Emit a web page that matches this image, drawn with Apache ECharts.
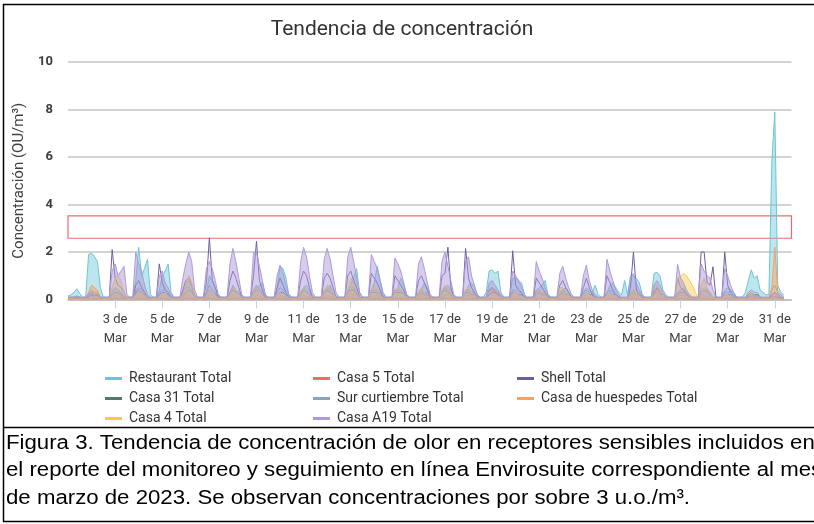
<!DOCTYPE html>
<html><head><meta charset="utf-8">
<script src="https://cdn.jsdelivr.net/npm/echarts/dist/echarts.min.js"></script>
<style>html,body{margin:0;padding:0;background:#fff}#c{width:814px;height:524px}</style>
</head><body><div id="c"></div>
<script>
// ---- data (3-hourly samples from 1 Mar 00:00; each row = one day: 0,3,6,9,12,15,18,21 h) ----
const STEP_H = 3;
const AXIS_MAX_H = 737;
const TICK_LABELS = ['3 de\nMar','5 de\nMar','7 de\nMar','9 de\nMar','11 de\nMar','13 de\nMar','15 de\nMar','17 de\nMar','19 de\nMar','21 de\nMar','23 de\nMar','25 de\nMar','27 de\nMar','29 de\nMar','31 de\nMar'];
const SERIES_NAMES = ['Restaurant Total','Casa 5 Total','Shell Total','Casa 31 Total','Sur curtiembre Total','Casa de huespedes Total','Casa 4 Total','Casa A19 Total'];
const BOX_LOW = 2.58, BOX_HIGH = 3.52;

const restaurant = [
0.15,0.2,0.3,0.45,0.25,0.1,0.1,1.9,
1.95,1.8,1.6,0.5,0.1,0.1,0.1,0.3,
0.5,0.4,0.3,0.15,0.1,0.1,0.1,0.8,
2.2,1.0,1.3,1.7,0.2,0.1,0.1,0.4,
1.0,1.2,1.5,0.3,0.1,0.1,0.1,0.3,
0.6,0.8,0.5,0.1,0.1,0.1,0.1,0.3,
1.0,0.8,0.5,0.2,0.1,0.1,0.1,0.3,
0.6,0.4,0.3,0.1,0.1,0.1,0.1,0.2,
0.5,0.6,0.7,0.2,0.1,0.1,0.1,0.5,
1.4,1.3,0.9,0.2,0.1,0.1,0.1,0.3,
0.5,0.6,0.4,0.1,0.1,0.1,0.1,0.2,
0.4,0.6,0.3,0.1,0.1,0.1,0.1,0.3,
0.6,0.9,1.3,0.3,0.1,0.1,0.1,0.4,
0.7,1.4,0.8,0.3,0.1,0.1,0.1,0.3,
0.5,0.9,0.6,0.2,0.1,0.1,0.1,0.3,
0.4,0.7,0.5,0.1,0.1,0.1,0.1,0.2,
0.5,0.6,0.4,0.1,0.1,0.1,0.1,0.2,
0.6,0.7,0.5,0.2,0.1,0.1,0.3,1.2,
1.25,1.1,1.2,0.3,0.1,0.1,0.1,0.9,
0.9,0.8,0.7,0.2,0.1,0.1,0.1,0.4,
0.5,0.6,0.8,0.2,0.1,0.1,0.1,0.3,
0.4,0.5,0.3,0.1,0.1,0.1,0.1,0.3,
0.5,0.4,0.3,0.6,0.2,0.1,0.1,0.3,
0.6,0.7,0.5,0.3,0.2,0.8,0.2,1.0,
1.0,0.9,0.7,0.2,0.1,0.1,0.1,1.1,
1.15,1.0,0.4,0.2,0.1,0.1,0.1,0.3,
0.4,0.5,0.3,0.1,0.1,0.1,0.1,0.2,
0.3,0.4,0.3,0.1,0.1,0.1,0.1,0.4,
0.5,0.4,0.3,0.1,0.1,0.1,0.3,0.8,
1.25,0.9,1.0,0.4,0.3,0.2,0.2,5.8,
7.9,0.6,0.3,0.2];

const casa5 = [
0.02,0.02,0.02,0.02,0.02,0.02,0.02,0.03,
0.04,0.03,0.03,0.02,0.02,0.02,0.02,0.03,
0.05,0.04,0.03,0.02,0.02,0.02,0.02,0.03,
0.05,0.04,0.03,0.02,0.02,0.02,0.02,0.03,
0.04,0.04,0.03,0.02,0.02,0.02,0.02,0.03,
0.05,0.05,0.03,0.02,0.02,0.02,0.02,0.03,
0.05,0.04,0.03,0.02,0.02,0.02,0.02,0.03,
0.05,0.04,0.03,0.02,0.02,0.02,0.02,0.04,
0.05,0.04,0.03,0.02,0.02,0.02,0.02,0.03,
0.04,0.04,0.03,0.02,0.02,0.02,0.02,0.03,
0.05,0.04,0.03,0.02,0.02,0.02,0.02,0.04,
0.05,0.04,0.03,0.02,0.02,0.02,0.02,0.04,
0.05,0.04,0.03,0.02,0.02,0.02,0.02,0.04,
0.04,0.04,0.03,0.02,0.02,0.02,0.02,0.03,
0.04,0.03,0.03,0.02,0.02,0.02,0.02,0.03,
0.04,0.04,0.03,0.02,0.02,0.02,0.02,0.04,
0.05,0.04,0.03,0.02,0.02,0.02,0.02,0.04,
0.04,0.03,0.03,0.02,0.02,0.02,0.02,0.03,
0.04,0.04,0.03,0.02,0.02,0.02,0.02,0.03,
0.04,0.03,0.03,0.02,0.02,0.02,0.02,0.03,
0.04,0.03,0.03,0.02,0.02,0.02,0.02,0.03,
0.04,0.03,0.03,0.02,0.02,0.02,0.02,0.03,
0.04,0.03,0.03,0.02,0.02,0.02,0.02,0.03,
0.04,0.03,0.03,0.02,0.02,0.02,0.02,0.03,
0.04,0.03,0.03,0.02,0.02,0.02,0.02,0.03,
0.04,0.03,0.03,0.02,0.02,0.02,0.02,0.03,
0.04,0.04,0.03,0.02,0.02,0.02,0.02,0.03,
0.04,0.03,0.03,0.02,0.02,0.02,0.02,0.03,
0.03,0.03,0.02,0.02,0.02,0.02,0.02,0.03,
0.04,0.03,0.03,0.02,0.02,0.02,0.02,0.06,
0.1,0.04,0.03,0.02];

const shell = [
0.05,0.05,0.05,0.05,0.05,0.05,0.05,0.1,
0.2,0.1,0.05,0.05,0.05,0.05,0.05,2.1,
0.9,0.6,0.5,0.3,0.05,0.05,0.05,0.6,
0.8,0.5,0.3,0.1,0.05,0.05,0.05,1.5,
0.7,0.4,0.3,0.1,0.05,0.05,0.05,0.4,
0.8,0.9,0.6,0.2,0.05,0.05,0.05,0.7,
2.6,0.8,0.5,0.1,0.05,0.05,0.05,0.8,
1.2,0.9,0.5,0.1,0.05,0.05,0.05,1.0,
2.45,0.8,0.4,0.1,0.05,0.05,0.05,0.5,
0.9,0.6,0.3,0.1,0.05,0.05,0.05,0.8,
1.2,1.0,0.5,0.1,0.05,0.05,0.05,0.9,
1.1,0.9,0.5,0.1,0.05,0.05,0.05,1.0,
1.2,0.8,0.5,0.1,0.05,0.05,0.05,1.1,
0.9,0.7,0.4,0.1,0.05,0.05,0.05,1.0,
0.8,0.6,0.4,0.1,0.05,0.05,0.05,0.8,
1.0,0.7,0.4,0.1,0.05,0.05,0.05,1.0,
1.1,2.2,0.5,0.1,0.05,0.05,0.05,2.15,
0.9,0.5,0.3,0.1,0.05,0.05,0.05,0.4,
0.5,0.3,0.2,0.1,0.05,0.05,0.05,2.05,
0.6,0.4,0.3,0.1,0.05,0.05,0.05,0.9,
0.7,0.5,0.3,0.1,0.05,0.05,0.05,0.6,
0.8,0.5,0.3,0.1,0.05,0.05,0.05,0.5,
0.9,0.5,0.2,0.1,0.05,0.05,0.05,1.0,
0.7,0.4,0.2,0.1,0.05,0.05,0.05,0.5,
2.0,0.4,0.2,0.1,0.05,0.05,0.05,0.3,
0.5,0.3,0.2,0.1,0.05,0.05,0.05,0.9,
0.5,0.4,0.2,0.1,0.05,0.05,0.05,2.0,
2.0,0.7,0.6,1.38,0.1,0.05,0.05,2.0,
0.6,0.3,0.2,0.1,0.05,0.05,0.05,0.1,
0.1,0.1,0.05,0.05,0.05,0.05,0.05,0.1,
0.1,0.1,0.05,0.05];

const casa31 = [
0.05,0.05,0.05,0.1,0.05,0.05,0.05,0.2,
0.3,0.2,0.2,0.1,0.05,0.05,0.05,0.2,
0.3,0.3,0.2,0.1,0.05,0.05,0.05,0.3,
0.4,0.3,0.2,0.1,0.05,0.05,0.05,0.2,
0.3,0.3,0.2,0.1,0.05,0.05,0.05,0.2,
0.3,0.4,0.3,0.1,0.05,0.05,0.05,0.2,
0.4,0.3,0.2,0.1,0.05,0.05,0.05,0.2,
0.4,0.3,0.2,0.1,0.05,0.05,0.05,0.3,
0.4,0.3,0.2,0.1,0.05,0.05,0.05,0.2,
0.3,0.3,0.2,0.1,0.05,0.05,0.05,0.2,
0.4,0.3,0.2,0.1,0.05,0.05,0.05,0.3,
0.4,0.3,0.2,0.1,0.05,0.05,0.05,0.3,
0.4,0.4,0.2,0.1,0.05,0.05,0.05,0.3,
0.3,0.3,0.2,0.1,0.05,0.05,0.05,0.3,
0.3,0.3,0.2,0.1,0.05,0.05,0.05,0.2,
0.3,0.2,0.2,0.1,0.05,0.05,0.05,0.3,
0.4,0.3,0.2,0.1,0.05,0.05,0.05,0.3,
0.3,0.2,0.2,0.1,0.05,0.05,0.05,0.2,
0.3,0.3,0.2,0.1,0.05,0.05,0.05,0.3,
0.3,0.2,0.2,0.1,0.05,0.05,0.05,0.2,
0.3,0.2,0.2,0.1,0.05,0.05,0.05,0.2,
0.3,0.2,0.2,0.1,0.05,0.05,0.05,0.2,
0.3,0.2,0.2,0.1,0.05,0.05,0.05,0.2,
0.3,0.2,0.2,0.1,0.05,0.05,0.05,0.2,
0.3,0.2,0.2,0.1,0.05,0.05,0.05,0.3,
0.3,0.2,0.2,0.1,0.05,0.05,0.05,0.2,
0.3,0.3,0.2,0.1,0.05,0.05,0.05,0.3,
0.4,0.3,0.2,0.1,0.05,0.05,0.05,0.2,
0.2,0.2,0.1,0.05,0.05,0.05,0.05,0.2,
0.3,0.2,0.2,0.1,0.05,0.05,0.05,0.2,
0.3,0.2,0.1,0.05];

const surCurtiembre = [
0.1,0.1,0.1,0.15,0.1,0.05,0.05,0.3,
0.4,0.3,0.3,0.1,0.05,0.05,0.05,0.3,
0.5,0.4,0.3,0.1,0.05,0.05,0.05,0.4,
0.5,0.4,0.3,0.1,0.05,0.05,0.05,0.3,
0.4,0.4,0.3,0.1,0.05,0.05,0.05,0.3,
0.5,0.5,0.4,0.1,0.05,0.05,0.05,0.3,
0.6,0.4,0.3,0.1,0.05,0.05,0.05,0.3,
0.5,0.4,0.3,0.1,0.05,0.05,0.05,0.4,
0.6,0.4,0.3,0.1,0.05,0.05,0.05,0.3,
0.5,0.4,0.3,0.1,0.05,0.05,0.05,0.3,
0.5,0.4,0.3,0.1,0.05,0.05,0.05,0.4,
0.5,0.4,0.3,0.1,0.05,0.05,0.05,0.4,
0.5,0.5,0.3,0.1,0.05,0.05,0.05,0.4,
0.4,0.4,0.3,0.1,0.05,0.05,0.05,0.4,
0.4,0.4,0.3,0.1,0.05,0.05,0.05,0.3,
0.4,0.3,0.3,0.1,0.05,0.05,0.05,0.4,
0.5,0.4,0.3,0.1,0.05,0.05,0.05,0.4,
0.4,0.3,0.3,0.1,0.05,0.05,0.05,0.4,
0.5,0.4,0.3,0.1,0.05,0.05,0.05,0.4,
0.4,0.3,0.3,0.1,0.05,0.05,0.05,0.3,
0.4,0.3,0.3,0.1,0.05,0.05,0.05,0.3,
0.4,0.3,0.2,0.1,0.05,0.05,0.05,0.3,
0.4,0.3,0.3,0.1,0.05,0.05,0.05,0.3,
0.4,0.3,0.2,0.1,0.05,0.05,0.05,0.3,
0.4,0.3,0.3,0.1,0.05,0.05,0.05,0.4,
0.4,0.3,0.2,0.1,0.05,0.05,0.05,0.3,
0.4,0.4,0.3,0.1,0.05,0.05,0.05,0.4,
0.5,0.4,0.3,0.1,0.05,0.05,0.05,0.3,
0.3,0.3,0.2,0.1,0.05,0.05,0.05,0.3,
0.4,0.3,0.3,0.1,0.05,0.05,0.05,0.4,
0.6,0.3,0.2,0.1];

const huespedes = [
0.05,0.05,0.05,0.1,0.05,0.05,0.05,0.3,
0.6,0.5,0.4,0.1,0.05,0.05,0.05,0.1,
0.2,0.2,0.1,0.05,0.05,0.05,0.05,0.2,
0.4,0.3,0.2,0.05,0.05,0.05,0.05,0.1,
0.2,0.2,0.1,0.05,0.05,0.05,0.05,0.1,
0.3,0.2,0.1,0.05,0.05,0.05,0.05,0.1,
0.2,0.2,0.1,0.05,0.05,0.05,0.05,0.1,
0.2,0.1,0.1,0.05,0.05,0.05,0.05,0.1,
0.2,0.15,0.1,0.05,0.05,0.05,0.05,0.1,
0.2,0.1,0.1,0.05,0.05,0.05,0.05,0.1,
0.2,0.1,0.1,0.05,0.05,0.05,0.05,0.1,
0.2,0.1,0.1,0.05,0.05,0.05,0.05,0.1,
0.3,0.2,0.1,0.05,0.05,0.05,0.05,0.1,
0.2,0.2,0.1,0.05,0.05,0.05,0.05,0.1,
0.2,0.1,0.1,0.05,0.05,0.05,0.05,0.1,
0.2,0.1,0.1,0.05,0.05,0.05,0.05,0.1,
0.2,0.2,0.1,0.05,0.05,0.05,0.05,0.1,
0.2,0.1,0.1,0.05,0.05,0.05,0.1,0.3,
0.45,0.4,0.3,0.1,0.05,0.05,0.05,0.3,
0.3,0.2,0.1,0.05,0.05,0.05,0.05,0.1,
0.2,0.1,0.1,0.05,0.05,0.05,0.05,0.1,
0.2,0.1,0.1,0.05,0.05,0.05,0.05,0.1,
0.2,0.1,0.1,0.05,0.05,0.05,0.05,0.1,
0.2,0.1,0.1,0.05,0.05,0.05,0.05,0.1,
0.2,0.2,0.1,0.05,0.05,0.05,0.05,0.2,
0.3,0.2,0.1,0.05,0.05,0.05,0.05,0.1,
0.2,0.2,0.1,0.05,0.05,0.05,0.05,0.1,
0.2,0.1,0.1,0.05,0.05,0.05,0.05,0.1,
0.1,0.1,0.05,0.05,0.05,0.05,0.05,0.2,
0.3,0.2,0.1,0.05,0.05,0.05,0.05,0.5,
2.2,0.3,0.1,0.05];

const casa4 = [
0.02,0.02,0.02,0.02,0.02,0.02,0.02,0.05,
0.1,0.1,0.05,0.02,0.02,0.02,0.02,0.5,
0.9,1.0,0.8,0.3,0.02,0.02,0.02,0.2,
0.3,0.2,0.1,0.05,0.02,0.02,0.02,0.1,
0.2,0.3,0.1,0.05,0.02,0.02,0.02,0.2,
0.6,1.0,0.7,0.2,0.02,0.02,0.02,0.2,
0.4,0.3,0.2,0.05,0.02,0.02,0.02,0.2,
0.5,0.4,0.2,0.05,0.02,0.02,0.02,0.3,
0.5,0.3,0.2,0.05,0.02,0.02,0.02,0.2,
0.3,0.2,0.1,0.05,0.02,0.02,0.02,0.3,
0.5,0.4,0.2,0.05,0.02,0.02,0.02,0.3,
0.6,0.5,0.3,0.05,0.02,0.02,0.02,0.4,
0.9,0.7,0.3,0.05,0.02,0.02,0.02,0.4,
0.6,0.4,0.2,0.05,0.02,0.02,0.02,0.3,
0.5,0.4,0.2,0.05,0.02,0.02,0.02,0.3,
0.5,0.3,0.2,0.05,0.02,0.02,0.02,0.4,
0.6,0.5,0.3,0.05,0.02,0.02,0.02,0.4,
0.5,0.3,0.2,0.05,0.02,0.02,0.02,0.1,
0.2,0.1,0.1,0.05,0.02,0.02,0.02,0.2,
0.3,0.2,0.1,0.05,0.02,0.02,0.02,0.2,
0.4,0.3,0.2,0.05,0.02,0.02,0.02,0.5,
0.5,0.3,0.2,0.05,0.02,0.02,0.02,0.2,
0.3,0.2,0.1,0.05,0.02,0.02,0.02,0.2,
0.3,0.2,0.1,0.05,0.02,0.02,0.02,0.2,
0.4,0.3,0.2,0.05,0.02,0.02,0.02,0.5,
0.6,0.4,0.2,0.05,0.02,0.02,0.02,0.9,
1.0,1.1,1.0,0.8,0.6,0.3,0.1,0.6,
0.9,0.5,0.3,0.1,0.02,0.02,0.02,0.2,
0.2,0.1,0.05,0.02,0.02,0.02,0.02,0.05,
0.1,0.05,0.05,0.02,0.02,0.02,0.02,0.1,
0.1,0.05,0.02,0.02];

const casaA19 = [
0.1,0.1,0.1,0.1,0.1,0.1,0.1,0.2,
0.3,0.2,0.15,0.1,0.1,0.1,0.1,1.2,
1.5,1.0,1.2,1.4,0.2,0.1,0.1,2.0,
1.5,1.2,0.6,0.2,0.1,0.1,0.1,1.0,
1.2,0.7,0.5,0.2,0.1,0.1,0.1,0.9,
1.5,2.0,1.6,0.4,0.1,0.1,0.1,1.3,
1.6,1.3,0.8,0.2,0.1,0.1,0.1,1.5,
2.15,1.6,0.9,0.2,0.1,0.1,0.1,2.0,
2.0,1.4,0.8,0.2,0.1,0.1,0.1,1.0,
1.45,1.1,0.6,0.2,0.1,0.1,0.1,1.6,
2.2,1.8,1.0,0.3,0.1,0.1,0.1,1.7,
2.15,1.7,1.0,0.3,0.1,0.1,0.1,1.8,
2.2,1.6,0.9,0.3,0.1,0.1,0.1,1.9,
1.6,1.3,0.8,0.2,0.1,0.1,0.1,1.75,
1.5,1.2,0.7,0.2,0.1,0.1,0.1,1.5,
1.8,1.3,0.7,0.2,0.1,0.1,0.1,1.6,
2.0,1.4,0.8,0.2,0.1,0.1,0.1,1.6,
1.8,1.0,0.6,0.2,0.1,0.1,0.1,0.7,
0.8,0.6,0.4,0.2,0.1,0.1,0.1,1.2,
1.0,0.8,0.5,0.2,0.1,0.1,0.1,1.6,
1.2,0.9,0.5,0.2,0.1,0.1,0.1,1.1,
1.4,0.9,0.5,0.2,0.1,0.1,0.1,1.0,
1.45,0.8,0.4,0.2,0.1,0.1,0.1,1.7,
1.2,0.8,0.4,0.2,0.1,0.1,0.1,0.9,
1.1,0.7,0.4,0.2,0.1,0.1,0.1,0.6,
0.8,0.6,0.3,0.1,0.1,0.1,0.1,1.48,
0.9,0.7,0.4,0.2,0.1,0.1,0.1,1.5,
1.2,1.0,0.9,0.4,0.1,0.1,0.1,1.3,
1.0,0.6,0.3,0.1,0.1,0.1,0.1,0.2,
0.2,0.2,0.15,0.1,0.1,0.1,0.1,0.2,
0.3,0.2,0.1,0.1];

const SERIES_VALUES = [restaurant, casa5, shell, casa31, surCurtiembre, huespedes, casa4, casaA19];
const SERIES_COLORS = ['#6cc5d6','#ee6b6e','#6d5e9e','#4e7b69','#8aa3b5','#f7a25e','#f7c948','#ae9ada'];
const AREA_OPACITY = [0.45, 0, 0, 0, 0, 0.45, 0.45, 0.5];

const CAPTION = [
  'Figura 3. Tendencia de concentración de olor en receptores sensibles incluidos en',
  'el reporte del monitoreo y seguimiento en línea Envirosuite correspondiente al mes',
  'de marzo de 2023. Se observan concentraciones por sobre 3 u.o./m³.'
];

// ---- chart ----
const FONT = 'Roboto, "Liberation Sans", sans-serif';
const chart = echarts.init(document.getElementById('c'), null, {renderer: 'canvas'});
const CAP_FONT = '20px "Liberation Sans"';
const mctx = document.createElement('canvas').getContext('2d');
mctx.font = CAP_FONT;
const capScale = 684 / mctx.measureText(CAPTION[2]).width;

const series = SERIES_NAMES.map((name, k) => {
  const s = {
    name, type: 'line', showSymbol: false, symbol: 'none', animation: false,
    data: SERIES_VALUES[k].map((v, i) => [i * STEP_H, v]),
    lineStyle: {width: 1, color: SERIES_COLORS[k]},
    itemStyle: {color: SERIES_COLORS[k]},
    z: 2 + k
  };
  if (AREA_OPACITY[k] > 0) s.areaStyle = {color: SERIES_COLORS[k], opacity: AREA_OPACITY[k]};
  if (k === 0) {
    s.markArea = {silent: true, itemStyle: {color: 'rgba(0,0,0,0)', borderColor: '#f06a6a', borderWidth: 1.2},
      data: [[{yAxis: BOX_LOW}, {yAxis: BOX_HIGH}]]};
  }
  return s;
});

const legendCommon = {
  orient: 'vertical', itemWidth: 17, itemHeight: 3, icon: 'rect', itemGap: 5,
  textStyle: {fontSize: 14, color: '#333', fontFamily: FONT, lineHeight: 15, padding: [0,0,0,2]},
  top: 366
};

const option = {
  animation: false,
  backgroundColor: '#fff',
  title: {text: 'Tendencia de concentración', left: 397, textAlign: 'center', top: 14,
    textStyle: {fontSize: 21, fontWeight: 'normal', color: '#333', fontFamily: FONT}},
  legend: [
    Object.assign({}, legendCommon, {left: 100, data: [SERIES_NAMES[0], SERIES_NAMES[3], SERIES_NAMES[6]]}),
    Object.assign({}, legendCommon, {left: 308, data: [SERIES_NAMES[1], SERIES_NAMES[4], SERIES_NAMES[7]]}),
    Object.assign({}, legendCommon, {left: 512, data: [SERIES_NAMES[2], SERIES_NAMES[5]]})
  ],
  grid: {left: 68, right: 22.5, top: 62, bottom: 224.5, containLabel: false},
  xAxis: {
    type: 'value', min: 0, max: AXIS_MAX_H, interval: 48,
    splitLine: {show: false},
    axisLine: {show: true, lineStyle: {color: '#bdbdbd', width: 1.5}},
    axisTick: {show: true, length: 9, lineStyle: {color: '#c3d3e3', width: 1}},
    axisLabel: {
      showMinLabel: false, showMaxLabel: false, margin: 11,
      fontSize: 13, color: '#404040', fontFamily: FONT, lineHeight: 19,
      formatter: v => (v % 48 === 0 && v > 0) ? (TICK_LABELS[v / 48 - 1] || '') : ''
    }
  },
  yAxis: {
    type: 'value', min: 0, max: 10, interval: 2,
    name: 'Concentración (OU/m³)', nameLocation: 'middle', nameGap: 40,
    nameTextStyle: {fontSize: 15, color: '#404040', fontFamily: FONT},
    axisLine: {show: false}, axisTick: {show: false},
    splitLine: {lineStyle: {color: '#c4c4c4', width: 1.5}},
    axisLabel: {margin: 15, fontSize: 13, fontWeight: 'bold', color: '#404040', fontFamily: FONT}
  },
  series,
  graphic: [
    {type: 'line', shape: {x1: 3.5, y1: 4, x2: 3.5, y2: 522}, style: {stroke: '#000', lineWidth: 1.5}, silent: true},
    {type: 'line', shape: {x1: 3, y1: 4.5, x2: 814, y2: 4.5}, style: {stroke: '#000', lineWidth: 1.5}, silent: true},
    {type: 'line', shape: {x1: 3, y1: 427.5, x2: 814, y2: 427.5}, style: {stroke: '#000', lineWidth: 1.5}, silent: true},
    {type: 'line', shape: {x1: 3, y1: 521.5, x2: 814, y2: 521.5}, style: {stroke: '#000', lineWidth: 1.5}, silent: true},
  ].concat(CAPTION.map((t, i) => ({
    type: 'text', x: 6, y: 443 + i * 27.5, scaleX: capScale, silent: true,
    style: {text: t, font: CAP_FONT, fill: '#000', textVerticalAlign: 'middle', verticalAlign: 'middle'}
  })))
};
chart.setOption(option);
</script>
</body></html>
